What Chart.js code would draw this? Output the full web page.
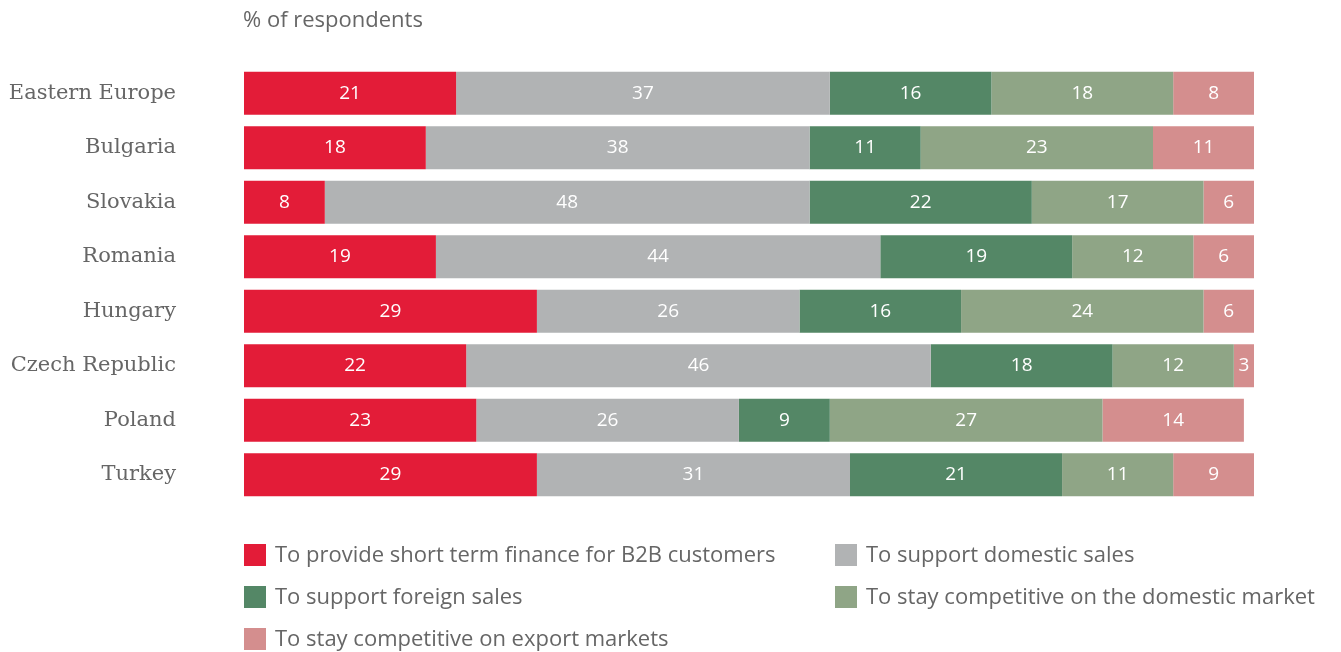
<!DOCTYPE html>
<html>
<head>
<meta charset="utf-8">
<script src="https://cdn.jsdelivr.net/npm/chart.js@4/dist/chart.umd.min.js"></script>
<style>
    html, body { margin: 0; padding: 0; background: #fff; }
    #wrap { width: 1341px; height: 652px; position: relative; }
</style>
</head>
<body>
<div id="wrap"><canvas id="reasonsChart"></canvas></div>
<script>
// Страны (сверху вниз)
const countries = ['Eastern Europe', 'Bulgaria', 'Slovakia', 'Romania', 'Hungary', 'Czech Republic', 'Poland', 'Turkey'];

// Значения по каждой причине, % респондентов
const shortTermFinance = [21, 18, 8, 19, 29, 22, 23, 29];
const domesticSales    = [37, 38, 48, 44, 26, 46, 26, 31];
const foreignSales     = [16, 11, 22, 19, 16, 18, 9, 21];
const domesticMarket   = [18, 23, 17, 12, 24, 12, 27, 11];
const exportMarkets    = [8, 11, 6, 6, 6, 3, 14, 9];

const seriesNames = [
    'To provide short term finance for B2B customers',
    'To support domestic sales',
    'To support foreign sales',
    'To stay competitive on the domestic market',
    'To stay competitive on export markets'
];
const seriesColors = ['#e31c38', '#b1b3b4', '#548766', '#8fa586', '#d48e8e'];
const seriesData = [shortTermFinance, domesticSales, foreignSales, domesticMarket, exportMarkets];

const textColor = '#666666';
const sansFont = '"Open Sans", "DejaVu Sans", sans-serif';

// Подписи значений внутри сегментов
const segmentLabels = {
    id: 'segmentLabels',
    afterDatasetsDraw(chart) {
        const { ctx, chartArea } = chart;
        ctx.save();
        ctx.fillStyle = '#ffffff';
        ctx.font = '19px ' + sansFont;
        ctx.textAlign = 'center';
        ctx.textBaseline = 'middle';
        chart.data.datasets.forEach((ds, i) => {
            chart.getDatasetMeta(i).data.forEach((bar, j) => {
                const left = Math.max(Math.min(bar.base, bar.x), chartArea.left);
                const right = Math.min(Math.max(bar.base, bar.x), chartArea.right);
                if (right - left < 4) return;
                ctx.fillText(String(ds.data[j]), (left + right) / 2, bar.y);
            });
        });
        ctx.restore();
    }
};

// Заголовок оси и легенда в две колонки
const titleAndLegend = {
    id: 'titleAndLegend',
    afterDraw(chart) {
        const { ctx } = chart;
        ctx.save();
        ctx.fillStyle = textColor;
        ctx.font = '22px ' + sansFont;
        ctx.textAlign = 'left';
        ctx.textBaseline = 'middle';
        ctx.fillText('% of respondents', 243, 21);

        const cols = [244, 835];
        const rows = [555, 597, 639];
        seriesNames.forEach((name, i) => {
            const x = cols[i % 2];
            const y = rows[Math.floor(i / 2)];
            ctx.fillStyle = seriesColors[i];
            ctx.fillRect(x, y - 11, 22, 22);
            ctx.fillStyle = textColor;
            ctx.fillText(name, x + 31, y + 1);
        });
        ctx.restore();
    }
};

const ctx = document.getElementById('reasonsChart');

new Chart(ctx, {
    type: 'bar',
    data: {
        labels: countries,
        datasets: seriesData.map((values, i) => ({
            label: seriesNames[i],
            data: values,
            backgroundColor: seriesColors[i],
            borderWidth: 0,
            barPercentage: 0.79,
            categoryPercentage: 1
        }))
    },
    options: {
        indexAxis: 'y',
        responsive: true,
        maintainAspectRatio: false,
        animation: false,
        layout: {
            padding: { top: 66, right: 87, bottom: 150, left: 0 }
        },
        scales: {
            x: {
                stacked: true,
                min: 0,
                max: 100,
                display: false
            },
            y: {
                stacked: true,
                grid: { display: false, drawTicks: false },
                border: { display: false },
                ticks: {
                    color: textColor,
                    padding: 68,
                    font: { family: '"DejaVu Serif", serif', size: 21 }
                },
                afterFit(scale) {
                    // фиксированная ширина колонки подписей, без отступов сверху/снизу
                    scale.width = 244;
                    scale.paddingTop = 0;
                    scale.paddingBottom = 0;
                }
            }
        },
        plugins: {
            legend: { display: false },
            tooltip: { enabled: false }
        }
    },
    plugins: [segmentLabels, titleAndLegend]
});
</script>
</body>
</html>
